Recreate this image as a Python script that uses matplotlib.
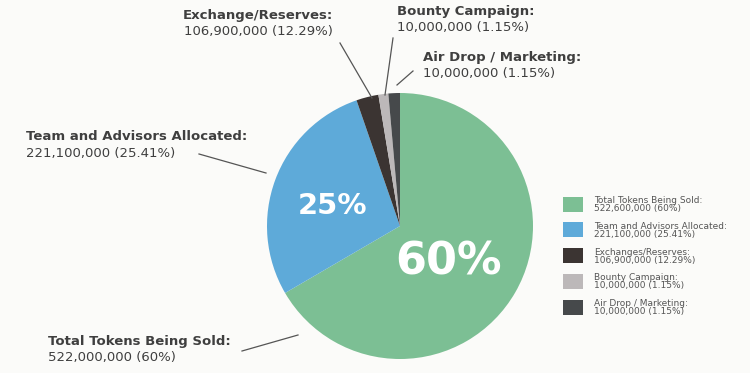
import matplotlib
matplotlib.use('Agg')
from matplotlib import pyplot as plt
from matplotlib.patches import Rectangle

# wedge shares as drawn in the graphic (the artwork does not follow its own labels)
names = ['Total Tokens Being Sold', 'Team and Advisors Allocated', 'Exchanges/Reserves',
         'Bounty Campaign', 'Air Drop / Marketing']
shares = [66.6, 28.1, 2.7, 1.2, 1.4]
colors = ['#7cbf94', '#5eaad9', '#3b3432', '#bcb8b9', '#46494b']

# legend texts
legend_lines = ['522,600,000 (60%)', '221,100,000 (25.41%)', '106,900,000 (12.29%)',
                '10,000,000 (1.15%)', '10,000,000 (1.15%)']
legend_names = ['Total Tokens Being Sold:', 'Team and Advisors Allocated:', 'Exchanges/Reserves:',
                'Bounty Campaign:', 'Air Drop / Marketing:']

# callout texts
callouts = [
    ('Exchange/Reserves:', '106,900,000 (12.29%)'),
    ('Bounty Campaign:', '10,000,000 (1.15%)'),
    ('Air Drop / Marketing:', '10,000,000 (1.15%)'),
    ('Team and Advisors Allocated:', '221,100,000 (25.41%)'),
    ('Total Tokens Being Sold:', '522,000,000 (60%)'),
]

W, H = 750, 373
bg = '#fbfbf9'
txt = '#3f3f3f'

plt.rcParams['font.family'] = ['DejaVu Sans']

fig = plt.figure(figsize=(7.5, 3.73), dpi=100, facecolor=bg)
ax = fig.add_axes([0, 0, 1, 1])
ax.set_facecolor(bg)


def Y(py):
    return H - py


ax.pie(shares, colors=colors, startangle=90, counterclock=False,
       center=(400, Y(226)), radius=133, frame=True,
       wedgeprops=dict(linewidth=0))
ax.set_xlim(0, W)
ax.set_ylim(0, H)
ax.axis('off')

# big percentages on wedges
ax.text(449, Y(262), '60%', color='white', fontsize=32, fontweight='bold',
        ha='center', va='center')
ax.text(333, Y(206), '25%', color='white', fontsize=21, fontweight='bold',
        ha='center', va='center')

# callout labels: (x, y of name, y of value, alignment)
pos = [(333, 16, 32, 'right'), (397, 11, 28, 'left'), (423, 57, 73, 'left'),
       (26, 136, 153, 'left'), (48, 341, 357, 'left')]
for (name, val), (x, y1, y2, ha) in zip(callouts, pos):
    ax.text(x, Y(y1), name, fontsize=9.5, fontweight='bold', color=txt, ha=ha, va='center')
    ax.text(x, Y(y2), val, fontsize=9.5, color=txt, ha=ha, va='center')

# leader lines
leaders = [((340, 43), (372, 98)), ((393, 38), (385, 95)), ((413, 71), (397, 85)),
           ((199, 154), (266, 173)), ((242, 351), (298, 335))]
for (x0, y0), (x1, y1) in leaders:
    ax.plot([x0, x1], [Y(y0), Y(y1)], color='#555555', lw=0.9)

# legend
for i, (c, n, v) in enumerate(zip(colors, legend_names, legend_lines)):
    yc = 204 + i * 25.8
    ax.add_patch(Rectangle((563, Y(yc + 7.5)), 20, 15, color=c, lw=0))
    ax.text(594, Y(yc - 3.5), n, fontsize=6.5, color='#555555', va='center', ha='left')
    ax.text(594, Y(yc + 4.5), v, fontsize=6.5, color='#555555', va='center', ha='left')

plt.savefig('out.png', dpi=100, facecolor=bg)
